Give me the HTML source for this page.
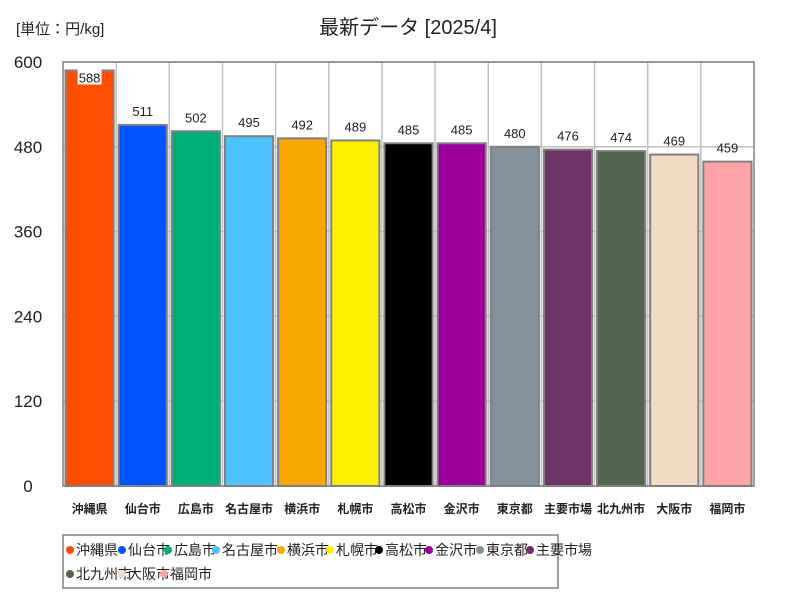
<!DOCTYPE html>
<html><head><meta charset="utf-8"><style>
body{margin:0;background:#fff;}
svg{display:block;font-family:"Liberation Sans","Noto Sans CJK JP",sans-serif;}
</style></head><body>
<svg id="c" width="800" height="600" viewBox="0 0 800 600">
<rect width="800" height="600" fill="#fff"/>
<text x="16" y="34" font-size="15" fill="#222">[単位：円/kg]</text>
<text x="408" y="34" font-size="20" text-anchor="middle" fill="#222">最新データ [2025/4]</text>
<g id="grid"></g><g id="bars"></g><g id="labels"></g>
<rect x="63" y="62" width="691" height="424" fill="none" stroke="#808080" stroke-width="1.5"/>
<rect x="63" y="535" width="495" height="53" fill="#fff" stroke="#808080" stroke-width="1.5"/>
<g id="legend"></g>
</svg>
<script>
const categories=["沖縄県","仙台市","広島市","名古屋市","横浜市","札幌市","高松市","金沢市","東京都","主要市場","北九州市","大阪市","福岡市"];
const values=[588,511,502,495,492,489,485,485,480,476,474,469,459];
const colors=["#ff4e00","#0055ff","#00ae7a","#4cc3ff","#f5a800","#fff000","#000000","#9a0099","#84909a","#6e3468","#54654f","#f3dcc3","#ffa3a6"];
const yTicks=[0,120,240,360,480,600];
const NS="http://www.w3.org/2000/svg";
const X0=63,X1=754,Y0=486,Y1=62,YMAX=600;
const slot=(X1-X0)/categories.length;
const y=v=>Y0-(v/YMAX)*(Y0-Y1);
const xs=i=>X0+i*slot;
function mk(t,a,p){const e=document.createElementNS(NS,t);for(const k in a)e.setAttribute(k,a[k]);p.appendChild(e);return e;}
const grid=document.getElementById('grid'),bars=document.getElementById('bars'),labels=document.getElementById('labels'),leg=document.getElementById('legend');
yTicks.forEach(t=>{
 const l=mk('line',{x1:X0,x2:X1,y1:y(t),y2:y(t),stroke:'#c0c0c0','stroke-width':1.5},grid);
 
 
 const tx=mk('text',{x:28,y:y(t)+6,'font-size':17,'text-anchor':'middle',fill:'#222'},grid);
 tx.textContent=t;
 
 
});
for(let i=1;i<categories.length;i++){
 const l=mk('line',{x1:xs(i),x2:xs(i),y1:Y1,y2:Y0,stroke:'#c0c0c0','stroke-width':1.5},grid);
 
 
}
categories.forEach((c,i)=>{
 const v=values[i],x=xs(i)+2.5,w=slot-5,top=y(v);
 const r=mk('rect',{x:x,y:top,width:w,height:Y0-top,fill:colors[i],stroke:'#808080','stroke-width':2},bars);
 
 
 const cx=xs(i)+slot/2;
 let ly=top-9;
 if(ly<Y1+12){ly=top+12;mk('rect',{x:cx-12,y:top-2,width:24,height:16,fill:'#fff'},labels);}
 const t=mk('text',{x:cx,y:ly,'font-size':13,'text-anchor':'middle',fill:'#222'},labels);
 t.textContent=v;
 
 
 const xl=mk('text',{x:cx,y:513,'font-size':12,'font-weight':'bold','text-anchor':'middle',fill:'#222'},labels);
 xl.textContent=c;
 
 
});
const lx=[66,118,164,212,277,326,375,425,476,526,66,118,160],lrow=[0,0,0,0,0,0,0,0,0,0,1,1,1];
categories.forEach((c,i)=>{
 const g=mk('g',{},leg);
 
 
 const yy=550+lrow[i]*24;
 mk('circle',{cx:lx[i]+4,cy:yy,r:4,fill:colors[i]},g);
 const t=mk('text',{x:lx[i]+10,y:yy+5,'font-size':14,fill:'#222'},g);
 t.textContent=c;
});
</script>
</body></html>
